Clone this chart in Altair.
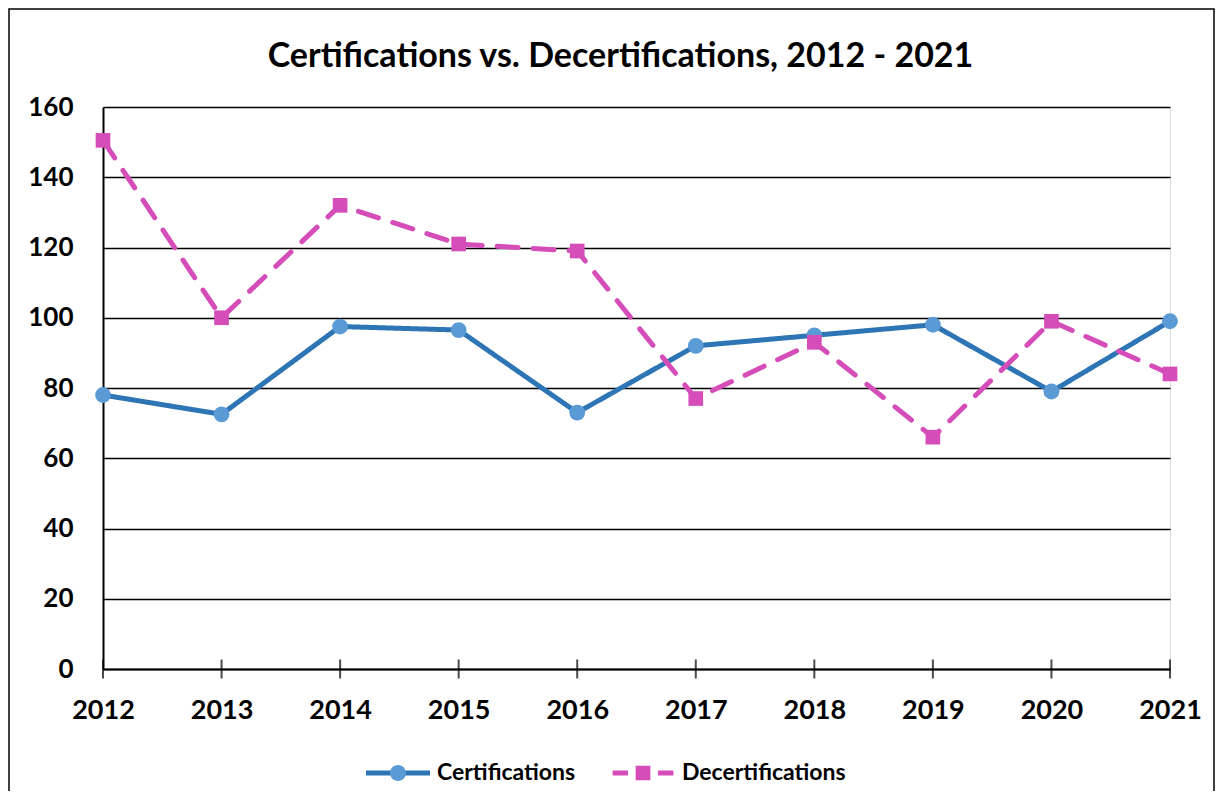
import altair as alt
import pandas as pd

years = [2012, 2013, 2014, 2015, 2016, 2017, 2018, 2019, 2020, 2021]
certifications = [78, 72.5, 97.5, 96.5, 73, 92, 95, 98, 79, 99]
decertifications = [150.5, 100, 132, 121, 119, 77, 93, 66, 99, 84]
series_names = ["Certifications", "Decertifications"]
y_ticks = [0, 20, 40, 60, 80, 100, 120, 140, 160]
title_text = "Certifications vs. Decertifications, 2012 - 2021"

line_colors = ["#2e75b6", "#d54db9"]
marker_colors = ["#5b9bd5", "#d54db9"]

rows = []
for i, yr in enumerate(years):
    rows.append({"year": yr, "series": series_names[0], "value": certifications[i]})
    rows.append({"year": yr, "series": series_names[1], "value": decertifications[i]})
df = pd.DataFrame(rows)
ticks_df = pd.DataFrame({"year": years})
frame_df = pd.DataFrame({"k": [0]})

FONT = "Lato"
W, H = 1067, 562

x_enc = alt.X("year:Q",
              scale=alt.Scale(domain=[years[0], years[-1]], nice=False, zero=False),
              axis=alt.Axis(values=years, format="d", title=None, grid=False,
                            ticks=False, tickSize=0, labelPadding=28, labelFlush=False,
                            labelFont=FONT, labelFontSize=27, labelFontWeight="bold",
                            labelColor="#000", domainColor="#000", domainWidth=2,
                            labelOverlap=False))
y_enc = alt.Y("value:Q",
              scale=alt.Scale(domain=[0, 160], nice=False),
              axis=alt.Axis(values=y_ticks, title=None, grid=True, gridColor="#000",
                            gridWidth=1.6, ticks=False, tickSize=0, labelPadding=30,
                            labelFont=FONT, labelFontSize=26, labelFontWeight="bold",
                            labelColor="#000", domainColor="#000", domainWidth=2))

frame = alt.Chart(frame_df).mark_rect(fillOpacity=0, stroke="#000", strokeWidth=1.5).encode(
    x=alt.value(-94), x2=alt.value(1111), y=alt.value(-98), y2=alt.value(720))

lines = alt.Chart(df).mark_line(strokeWidth=5, strokeCap="round", strokeJoin="round").encode(
    x=x_enc, y=y_enc,
    color=alt.Color("series:N", scale=alt.Scale(range=line_colors), legend=None),
    strokeDash=alt.StrokeDash("series:N", scale=alt.Scale(range=[[1, 0], [21, 15]]), legend=None),
)

points = alt.Chart(df).mark_point(filled=True, opacity=1).encode(
    x="year:Q", y="value:Q",
    color=alt.Color("series:N", scale=alt.Scale(range=marker_colors), legend=None),
    shape=alt.Shape("series:N", scale=alt.Scale(range=["circle", "square"]), legend=None),
    size=alt.Size("series:N", scale=alt.Scale(range=[250, 215]), legend=None),
)

tick_marks = alt.Chart(ticks_df).mark_tick(orient="vertical", color="#000", thickness=2, size=19).encode(
    x="year:Q", y=alt.Y(datum=0))

p_line = "M-1,-0.078H1V0.078H-1Z"
p_dash = ("M-1,-0.001H-0.999V0.001H-1Z M0.999,-0.001H1V0.001H0.999Z "
          "M-0.95,-0.078H-0.47V0.078H-0.95Z M0.47,-0.078H0.95V0.078H0.47Z")
p_circle = ("M-1,-0.001H-0.999V0.001H-1Z M0.999,-0.001H1V0.001H0.999Z "
            "M-0.25,0A0.25,0.25 0 1,0 0.25,0A0.25,0.25 0 1,0 -0.25,0Z")
p_square = ("M-1,-0.001H-0.999V0.001H-1Z M0.999,-0.001H1V0.001H0.999Z "
            "M-0.23,-0.23H0.23V0.23H-0.23Z")


def leg(label_opacity):
    return alt.Legend(title=None, orient="none", legendX=263, legendY=634,
                      direction="horizontal", columns=2, padding=0,
                      symbolSize=4096, symbolStrokeWidth=0, symbolOpacity=1,
                      labelFont=FONT, labelFontSize=23, labelFontWeight="bold",
                      labelColor="#000", labelOpacity=label_opacity, labelLimit=0,
                      labelOffset=7, columnPadding=35)


legend_lines = alt.Chart(df).mark_point(filled=True, opacity=0).encode(
    x="year:Q", y="value:Q",
    color=alt.Color("series:N", scale=alt.Scale(range=line_colors), legend=leg(1)),
    shape=alt.Shape("series:N", scale=alt.Scale(range=[p_line, p_dash]), legend=leg(1)),
)

legend_marks = alt.Chart(df).mark_point(filled=True, opacity=0).encode(
    x="year:Q", y="value:Q",
    color=alt.Color("series:N", scale=alt.Scale(range=marker_colors), legend=leg(0)),
    shape=alt.Shape("series:N", scale=alt.Scale(range=[p_circle, p_square]), legend=leg(0)),
)

chart = alt.layer(frame, lines, points, tick_marks, legend_lines, legend_marks).resolve_scale(
    color="independent", shape="independent", size="independent", strokeDash="independent"
).properties(
    width=W, height=H,
    autosize=alt.AutoSizeParams(type="none"),
    padding={"left": 95, "top": 99, "right": 45, "bottom": 122},
    title=alt.TitleParams(title_text, font=FONT, fontSize=34, fontWeight="bold",
                          color="#000", anchor="middle", frame="group",
                          baseline="alphabetic", offset=-93, dx=-16),
).configure_view(
    fill="#f2f2f2", stroke="#000", strokeWidth=2
).configure(background="white")

chart.save("out.html", embed_options={"renderer": "svg", "actions": False})
